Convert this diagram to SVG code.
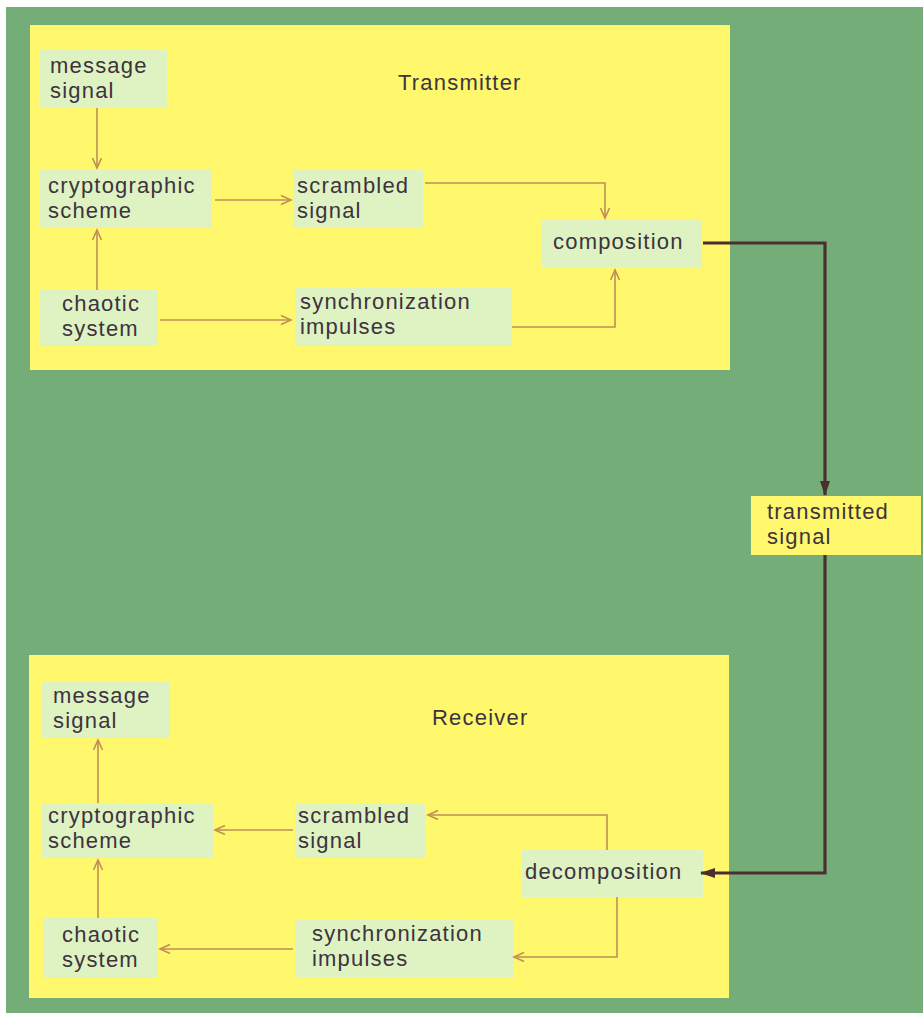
<svg xmlns="http://www.w3.org/2000/svg" width="923" height="1018" viewBox="0 0 923 1018">
<style>
text{font-family:"Liberation Sans",Arial,sans-serif;font-size:22px;letter-spacing:1.2px;fill:#3d3340}
.node{fill:#dff2c2}
.panel{fill:#fff86c}
.c{fill:none;stroke:#c08d5a;stroke-width:1.6}
.thick{fill:none;stroke:#4a2f30;stroke-width:3.2}
</style>
<defs>
<marker id="open" markerUnits="userSpaceOnUse" markerWidth="14" markerHeight="12" refX="11" refY="5" orient="auto">
<path d="M1,0.5 L11,5 L1,9.5" fill="none" stroke="#c08d5a" stroke-width="1.6"/>
</marker>
<marker id="solid" markerUnits="userSpaceOnUse" markerWidth="16" markerHeight="12" refX="14" refY="5" orient="auto">
<path d="M0,0 L15,5 L0,10 z" fill="#4a2f30"/>
</marker>
</defs>
<rect x="0" y="0" width="923" height="1018" fill="#ffffff"/>
<rect x="6" y="7" width="917" height="1006" fill="#74ad78"/>
<rect class="panel" x="30" y="25" width="700" height="345"/>
<rect class="panel" x="29" y="655" width="700" height="343"/>
<text x="398" y="90">Transmitter</text>
<text x="432" y="725">Receiver</text>

<g id="t-message">
<rect class="node" x="40" y="50" width="127" height="58"/>
<text x="50" y="73">message</text><text x="50" y="98">signal</text>
</g>
<g id="t-crypto">
<rect class="node" x="40" y="170" width="172" height="58"/>
<text x="48" y="193">cryptographic</text><text x="48" y="218">scheme</text>
</g>
<g id="t-scrambled">
<rect class="node" x="293" y="170" width="130" height="58"/>
<text x="297" y="193">scrambled</text><text x="297" y="218">signal</text>
</g>
<g id="t-chaotic">
<rect class="node" x="40" y="290" width="118" height="56"/>
<text x="62" y="311">chaotic</text><text x="62" y="336">system</text>
</g>
<g id="t-sync">
<rect class="node" x="295" y="288" width="217" height="58"/>
<text x="300" y="309">synchronization</text><text x="300" y="334">impulses</text>
</g>
<g id="t-composition">
<rect class="node" x="542" y="220" width="160" height="47"/>
<text x="553" y="249">composition</text>
</g>

<g id="transmitted">
<rect class="panel" x="751" y="496" width="170" height="59"/>
<text x="767" y="519">transmitted</text><text x="767" y="544">signal</text>
</g>

<g id="r-message">
<rect class="node" x="42" y="682" width="128" height="56"/>
<text x="53" y="703">message</text><text x="53" y="728">signal</text>
</g>
<g id="r-crypto">
<rect class="node" x="42" y="803" width="171" height="55"/>
<text x="48" y="823">cryptographic</text><text x="48" y="848">scheme</text>
</g>
<g id="r-scrambled">
<rect class="node" x="295" y="803" width="130" height="55"/>
<text x="298" y="823">scrambled</text><text x="298" y="848">signal</text>
</g>
<g id="r-chaotic">
<rect class="node" x="43" y="918" width="115" height="60"/>
<text x="62" y="942">chaotic</text><text x="62" y="967">system</text>
</g>
<g id="r-sync">
<rect class="node" x="295" y="920" width="218" height="57"/>
<text x="312" y="941">synchronization</text><text x="312" y="966">impulses</text>
</g>
<g id="r-decomposition">
<rect class="node" x="522" y="850" width="181" height="47"/>
<text x="525" y="879">decomposition</text>
</g>

<g id="connectors">
<path class="c" d="M97,108 L97,168" marker-end="url(#open)"/>
<path class="c" d="M97,290 L97,230" marker-end="url(#open)"/>
<path class="c" d="M215,200 L291,200" marker-end="url(#open)"/>
<path class="c" d="M160,320 L291,320" marker-end="url(#open)"/>
<path class="c" d="M425,183 L605,183 L605,218" marker-end="url(#open)"/>
<path class="c" d="M512,327 L615,327 L615,270" marker-end="url(#open)"/>
<path class="thick" d="M703,243 L825,243 L825,495" marker-end="url(#solid)"/>
<path class="thick" d="M825,555 L825,873 L701,873" marker-end="url(#solid)"/>
<path class="c" d="M98,803 L98,740" marker-end="url(#open)"/>
<path class="c" d="M98,918 L98,860" marker-end="url(#open)"/>
<path class="c" d="M293,830 L215,830" marker-end="url(#open)"/>
<path class="c" d="M293,949 L160,949" marker-end="url(#open)"/>
<path class="c" d="M607,850 L607,815 L428,815" marker-end="url(#open)"/>
<path class="c" d="M617,897 L617,957 L514,957" marker-end="url(#open)"/>
</g>
</svg>
